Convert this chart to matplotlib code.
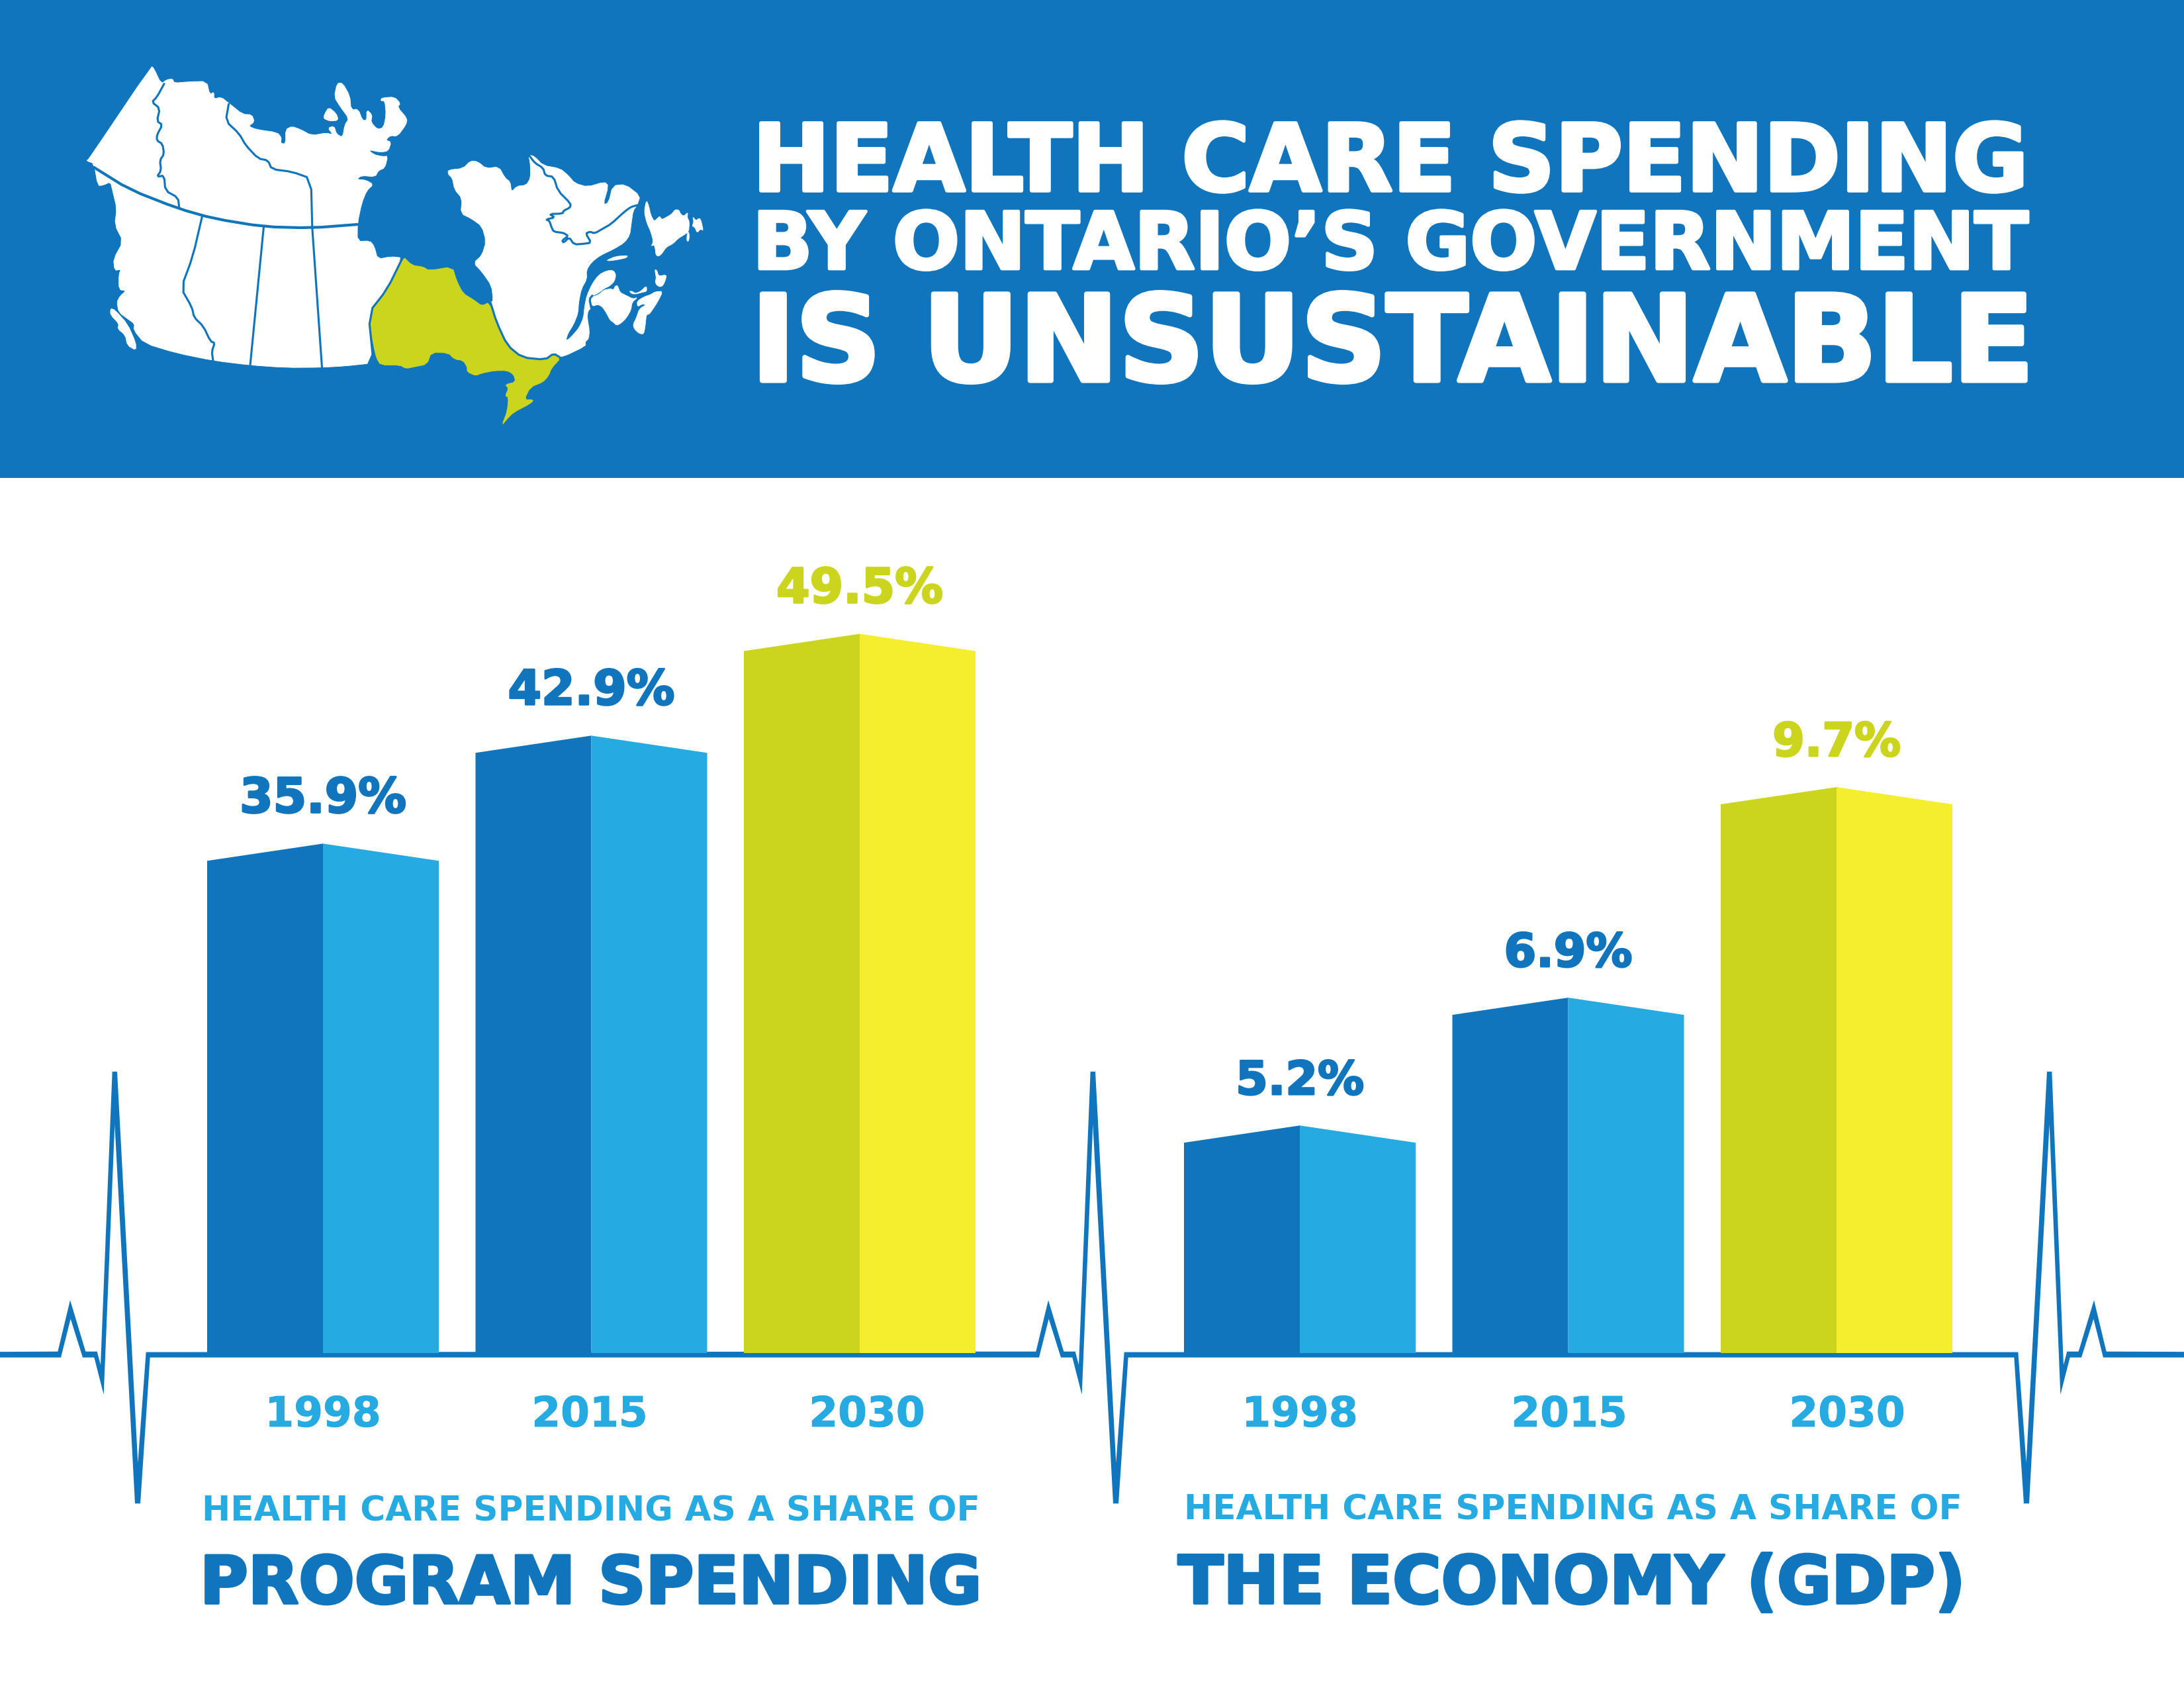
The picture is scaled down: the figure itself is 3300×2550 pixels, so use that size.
import matplotlib
matplotlib.use("Agg")
import matplotlib.pyplot as plt
import matplotlib.patheffects as pe
from matplotlib.patches import Polygon

# ---------- data ----------
years = ["1998", "2015", "2030"]
program_share = [35.9, 42.9, 49.5]
gdp_share = [5.2, 6.9, 9.7]
title_lines = ["HEALTH CARE SPENDING", "BY ONTARIO\u2019S GOVERNMENT", "IS UNSUSTAINABLE"]
sub_text = "HEALTH CARE SPENDING AS A SHARE OF"
left_title = "PROGRAM SPENDING"
right_title = "THE ECONOMY (GDP)"

BLUE = "#1075BC"
SKY = "#26AAE2"
OLIVE = "#CBD51D"
YELLOW = "#F5EE2F"
DARKS = [BLUE, BLUE, OLIVE]
LIGHTS = [SKY, SKY, YELLOW]
HEAVY = "DejaVu Sans"
EMBOLDEN = 0.04   # stroke width as a share of the font size

fig = plt.figure(figsize=(11, 8.5), dpi=300, facecolor="white")
bg = fig.add_axes([0, 0, 1, 1])
bg.set_xlim(0, 3300)
bg.set_ylim(2550, 0)
bg.axis("off")
renderer = fig.canvas.get_renderer()


def thicken(t, color, share=EMBOLDEN):
    t.set_path_effects([pe.withStroke(linewidth=t.get_fontsize() * share, foreground=color)])


def fit(s, x0, x1, base, color, family=HEAVY, weight="bold", z=10, share=EMBOLDEN):
    t = bg.text(x0, base, s, color=color, family=family, weight=weight, fontsize=40,
                ha="left", va="baseline", zorder=z)
    w = t.get_window_extent(renderer).width
    t.set_fontsize(40 * (x1 - x0) / w)
    if share:
        thicken(t, color, share)
    return t


# ---------- header ----------
bg.fill_between([0, 3300], 0, 722, color=BLUE, lw=0, zorder=0)
fit(title_lines[0], 1137, 3064, 288, "white")
fit(title_lines[1], 1137, 3064, 406, "white")
fit(title_lines[2], 1135, 3073, 575, "white")


# ---------- map ----------
def z1(p):
    return [(100 + x / 1.568, 70 + y / 2.613) for x, y in p]


def z5(p):
    return [(780 + x / 3, 300 + y / 3) for x, y in p]


def soften(pts, closed=True, r=0.22):
    out = []
    n = len(pts)
    rng = range(n) if closed else range(n - 1)
    if not closed:
        out.append(pts[0])
    for i in rng:
        a, b = pts[i], pts[(i + 1) % n]
        out.append((a[0] + r * (b[0] - a[0]), a[1] + r * (b[1] - a[1])))
        out.append((b[0] - r * (b[0] - a[0]), b[1] - r * (b[1] - a[1])))
    if not closed:
        out.append(pts[-1])
    return out


def shape(pts, color="white", z=2):
    bg.add_patch(Polygon(soften(pts), closed=True, fc=color, ec=color, lw=0.2, zorder=z, joinstyle="round"))


def border(pts, lw=0.75):
    xs, ys = zip(*soften(pts, closed=False))
    bg.plot(xs, ys, color=BLUE, lw=lw, zorder=4, solid_joinstyle="round", solid_capstyle="round")


west = z1([(202,78),(208,88),(225,148),(238,132),(252,128),(256,145),(290,140),(333,138),(340,190),(350,180),(350,208),
(367,200),(388,228),(418,268),(440,270),(446,298),(432,315),(450,328),(500,340),(510,360),(508,383),(520,385),
(520,328),(535,316),(555,328),(582,352),(615,342),(632,348),(620,322),(635,315),(640,345),(655,360),(660,310),
(670,285),(650,240),(635,200),(642,145),(655,145),(672,195),(675,250),(692,248),(702,292),(712,292),(712,250),
(725,270),(722,300),(738,328),(752,320),(758,270),(755,215),(745,215),(748,203),(778,200),(792,225),(785,240),
(808,285),(805,310),(785,355),(768,352),(757,370),(770,378),(763,413),(745,418),(715,408),(730,428),(750,435),
(762,433),(755,480),(740,490),(732,515),(700,510),(688,525),(710,528),(728,545),(712,570),(700,620),(690,700),
(690,770),(720,768),(730,790),(738,840),(770,830),(797,835),(760,960),(716,1053),(728,1250),(660,1262),(605,1267),
(520,1268),(435,1258),(348,1240),(260,1210),(185,1172),(160,1120),(162,1095),(145,1075),(125,1050),(120,1010),
(128,985),(142,965),(125,960),(125,900),(130,880),(115,885),(112,840),(135,770),(115,705),(120,640),(110,570),
(105,535),(88,548),(75,550),(66,462),(48,452),(54,444)])
shape(west)
shape(z1([(105,1035),(115,1040),(145,1095),(165,1170),(165,1200),(145,1180),(140,1140),(122,1115),(125,1095),(105,1060)]))
shape(z1([(612,268),(622,240),(640,265),(645,292),(625,295),(610,285)]))

quebec = z1([(905,488),(940,482),(958,452),(975,455),(995,482),(1025,475),(1040,520),(1052,535),(1055,575),(1068,552),
(1090,548),(1100,520),(1100,470),(1096,428),(1110,435),(1130,470),(1170,482),(1190,510),(1205,540),(1235,555),
(1275,535),(1285,550),(1272,625),(1285,618),(1295,550),(1325,545),(1360,590)]) + z5([(548,30),(530,55),(522,110),
(515,165),(490,200),(440,230),(380,258),(340,290),(318,325),(320,365),(295,410),(283,470),(280,520),(260,570),
(235,610),(225,640),(235,640),(260,615),(285,585),(305,540),(310,490),(320,440),(345,385),(375,345),(410,327),
(440,325),(452,345),(445,375),(425,395),(395,410),(370,430),(345,440),(332,455),(340,495),(325,510),(322,540),
(332,600),(328,635),(312,650),(315,668),(210,718)]) + z1([(1135,1237),(1080,1228),(1045,1180),(1020,1090),(1005,1010),
(1012,1005),(1008,945),(985,890),(965,855),(985,825),(995,770),(985,710),(960,680),(935,660),(938,600),(920,565),
(915,520),(905,505)])
shape(quebec)
shape(z5([(590,8),(600,30),(610,75),(625,103),(640,90),(650,80),(660,95),(680,85),(705,70),(720,50),(738,52),(745,70),
(760,80),(778,62),(775,85),(785,105),(782,150),(760,165),(735,180),(710,205),(680,220),(660,250),(645,262),(633,255),
(630,225),(625,210),(612,215),(622,195),(610,150),(592,110),(580,60)]))
shape(z5([(800,82),(815,100),(830,88),(838,100),(848,145),(835,138),(820,155),(810,130),(798,125),(805,105)]))
shape(z5([(775,160),(782,150),(785,175),(780,195),(773,190)]))
shape(z5([(410,280),(450,262),(505,258),(500,268),(460,277),(420,282)]))
shape(z5([(345,445),(375,435),(395,415),(430,408),(440,415),(450,395),(460,395),(470,425),(500,440),(530,455),(550,448),
(525,470),(520,505),(500,540),(475,565),(455,575),(440,560),(425,550),(410,520),(390,490),(370,480),(345,488),(338,460)]))
shape(z5([(513,420),(525,420),(540,430),(565,420),(590,395),(592,420),(570,425),(545,432),(525,432)]))
shape(z5([(548,465),(580,445),(610,435),(630,422),(665,420),(640,470),(610,515),(600,525),(590,525),(585,575),(578,615),
(555,610),(535,590),(530,570),(545,540),(558,500),(590,480),(570,478),(550,490)]))
shape(z5([(628,322),(638,325),(645,352),(680,345),(678,365),(665,395),(650,400),(635,390),(630,375),(635,360)]))
shape(z1([(797,828),(820,865),(845,870),(860,885),(915,870),(925,925),(940,975),(965,1000),(985,1025),(1002,1010),
(1020,1090),(1045,1180),(1080,1228),(1135,1237),(1155,1212),(1172,1230),(1150,1270),(1143,1300),(1130,1325),(1100,1345),
(1085,1395),(1108,1395),(1100,1410),(1060,1445),(1045,1470),(1032,1497),(1045,1440),(1048,1385),(1040,1380),(1048,1350),
(1040,1335),(1065,1325),(1060,1295),(1045,1280),(1015,1280),(985,1290),(970,1300),(950,1285),(950,1265),(940,1240),
(920,1235),(905,1210),(865,1208),(855,1255),(825,1265),(805,1272),(790,1258),(745,1258),(735,1230),(728,1180),
(716,1053),(760,960)]), OLIVE, 3)

border(z1([(66,478),(150,565),(265,640),(350,680),(468,712),(580,717),(690,703)]), 1.0)
border(z1([(232,148),(215,200),(203,220),(222,245),(215,295),(228,310),(215,350),(215,372),(228,385),(232,425),(222,450),
(225,490),(215,515),(232,510),(235,570),(265,597),(268,640)]))
border(z1([(385,228),(378,295),(410,345),(425,390),(455,443),(478,450),(487,485),(535,495),(580,522),(583,717)]))
border(z1([(322,672),(300,830),(272,955),(298,1030),(303,1070),(325,1105),(342,1165),(352,1170),(345,1205),(348,1240)]))
border(z1([(468,712),(436,1258)]))
border(z1([(583,717),(606,1267)]))
border(z1([(797,835),(760,960),(716,1053),(728,1250)]))
border(z1([(1005,1010),(1020,1090),(1045,1180),(1080,1228),(1135,1237),(1155,1212),(1172,1230)]))
border(z1([(1096,428),(1110,460),(1130,480),(1135,510),(1155,515),(1165,570),(1195,620)]) +
       z5([(245,40),(215,55),(210,68),(150,70),(175,85),(135,95),(150,100),(160,130),(170,150),(210,155),(222,160),(235,170),
           (208,190),(215,200),(240,175),(262,208),(305,205),(340,200),(315,158),(335,150),(355,158),(395,135),(430,115),
           (490,60),(520,38),(548,30)]))
border(z5([(345,440),(332,455),(340,495)]))


# ---------- heartbeat ----------
UP = [(262,985),(318,812),(388,985),(440,985),(456,1030),(509,42),(531,42),(625,1360),(662,987)]
LOW = [(680,1005),(636,1497),(612,1497),(520,220),(470,1130),(427,1005),(375,1005),(320,875),(276,1005)]


def sx(x):
    return x / 3


def sy(y):
    return 1600 + y / 2.23


up = [(sx(x), sy(y)) for x, y in UP]
low = [(sx(x), sy(y)) for x, y in LOW]
SHIFT = 1478
MIRROR = 3270
Y_T, Y_B = sy(986), sy(1005)
top = [(0, Y_T)] + up + [(x + SHIFT, y) for x, y in up] + [(MIRROR - x, y) for x, y in reversed(up)] + [(3300, Y_T)]
bottom = [(3300, Y_B)] + [(MIRROR - x, y) for x, y in reversed(low)] + \
         [(x + SHIFT, y) for x, y in low] + low + [(0, Y_B)]
bg.add_patch(Polygon(top + bottom, closed=True, fc=BLUE, ec="none", zorder=6))

# ---------- bars ----------
BASE_PX = 2044
TOP_PX = 850
SPACING = 405.5
HALF = 175
DROP_PX = 26
WIDE_LABEL_PX = 252
NARROW_LABEL_PX = 194


def bar_panel(values, first_center, ymin, px_per_unit):
    x0 = first_center - 1.0 * SPACING
    x1 = x0 + 4 * SPACING
    ax = fig.add_axes([x0 / 3300, 1 - BASE_PX / 2550, (x1 - x0) / 3300, (BASE_PX - TOP_PX) / 2550])
    ax.set_xlim(-1, 3)
    ax.set_ylim(ymin, ymin + (BASE_PX - TOP_PX) / px_per_unit)
    ax.axis("off")
    hw = HALF / SPACING
    dv = DROP_PX / px_per_unit
    for i, v in enumerate(values):
        ax.fill([i - hw, i - hw, i, i], [ymin, v - dv, v, ymin], color=DARKS[i], lw=0)
        ax.fill([i, i, i + hw, i + hw], [ymin, v, v - dv, ymin], color=LIGHTS[i], lw=0)
        col = OLIVE if i == 2 else BLUE
        t = ax.annotate(f"{v}%", (i, v), xytext=(0, 47 * 72 / 300), textcoords="offset points",
                        ha="center", va="baseline", color=col, family=HEAVY, weight="bold", fontsize=20)
        target = WIDE_LABEL_PX if v >= 10 else NARROW_LABEL_PX
        t.set_fontsize(20 * target / t.get_window_extent(renderer).width)
        thicken(t, col)
    return ax


axL = bar_panel(program_share, 488, 2.87, 23.3)
axR = bar_panel(gdp_share, 1964, 2.174, 113.6)

# ---------- labels ----------
YEAR_SIZE = 63 * 72 / 300
for s, c in zip(years + years, [488, 891, 1310, 1964, 2371, 2791]):
    t = bg.text(c, 2155, s, color=SKY, family=HEAVY, weight="bold", fontsize=YEAR_SIZE,
                ha="center", va="baseline", zorder=10)
    thicken(t, SKY, 0.015)

fit(sub_text, 305, 1478, 2297, SKY, share=0)
fit(sub_text, 1789, 2963, 2296, SKY, share=0)
fit(left_title, 302, 1483, 2422, BLUE)
fit(right_title, 1780, 2969, 2422, BLUE)

fig.savefig("out.png", dpi=300)
